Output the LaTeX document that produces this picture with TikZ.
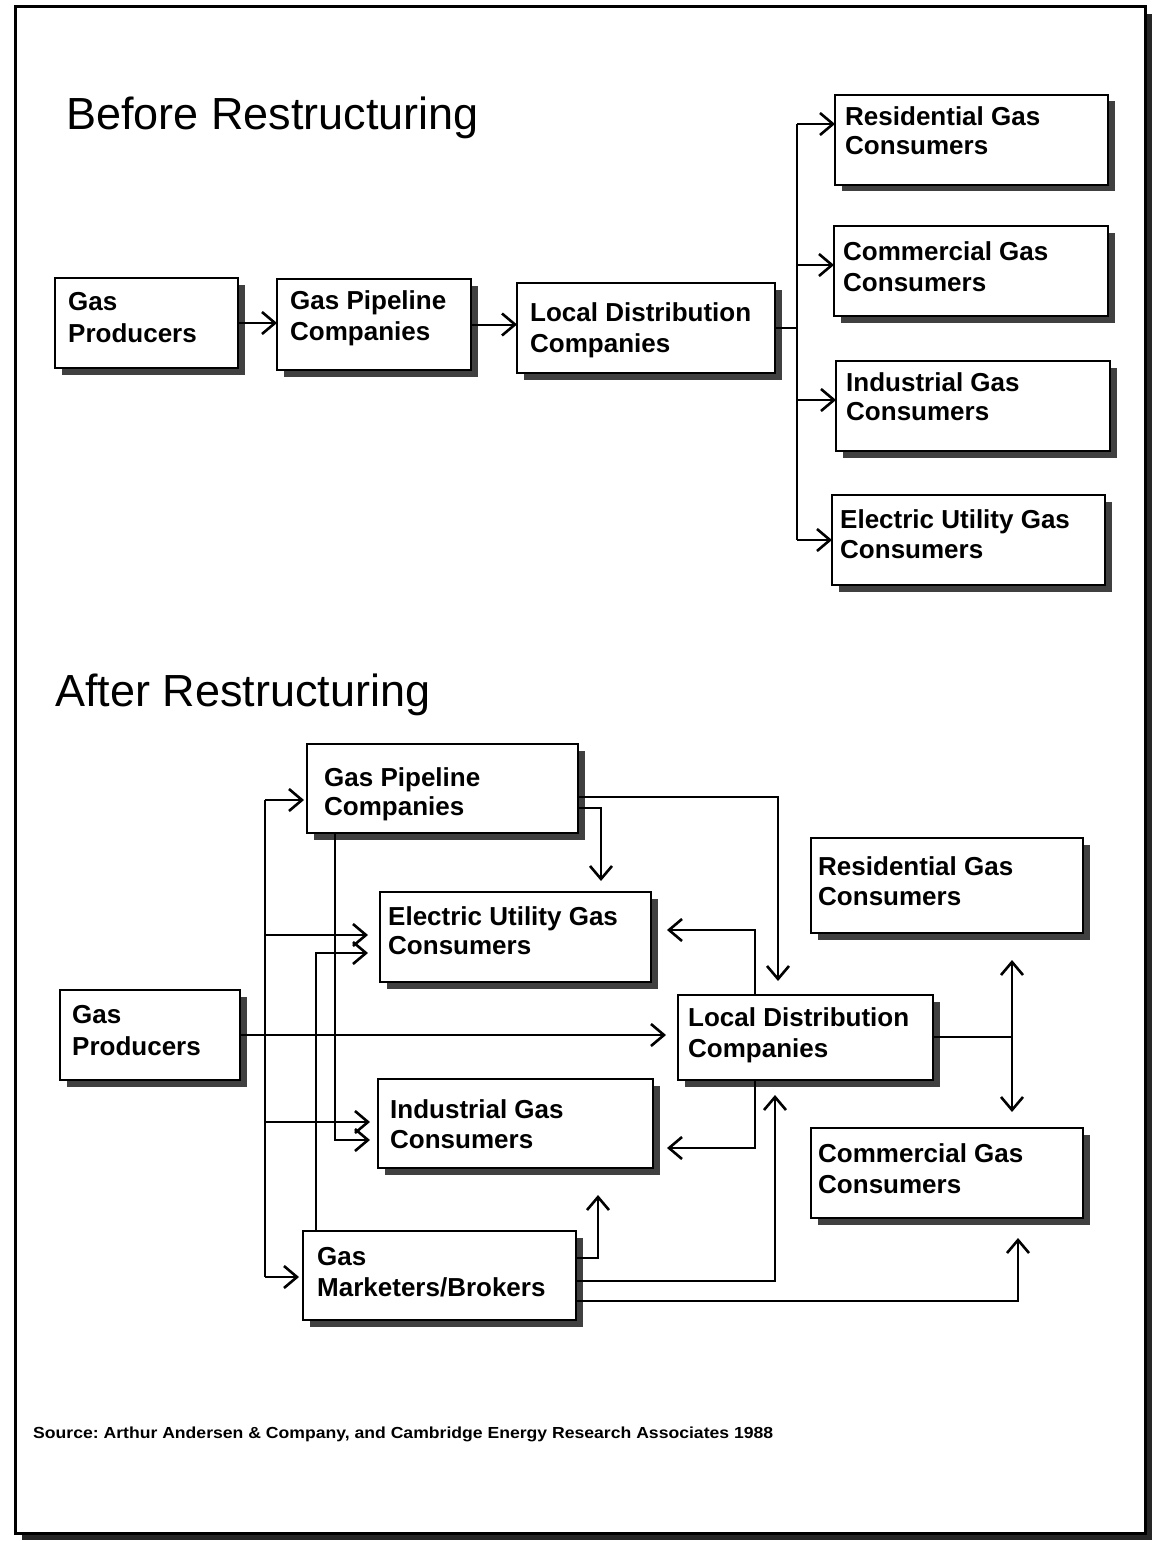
\documentclass[tikz,border=0pt]{standalone}
\usepackage{fontspec}
\setmainfont{Liberation Sans}
\usetikzlibrary{arrows.meta,shadows,calc}
\frenchspacing
\tikzset{
  gbox/.style={draw, line width=2pt, fill=white, inner sep=0pt, outer sep=0pt, anchor=north west,
    drop shadow={shadow xshift=6.5pt, shadow yshift=-6.5pt, fill=black!75, opacity=1}},
  glbl/.style={font=\bfseries\fontsize{26}{30}\selectfont, inner sep=0pt, anchor=base west},
  ttl/.style={font=\fontsize{45}{54}\selectfont, inner sep=0pt, anchor=base west},
  conn/.style={line width=2pt},
  arr/.style={conn, -{Straight Barb[length=13pt,width=22pt,line width=2.6pt]}},
}
\begin{document}
\begin{tikzpicture}[x=1pt,y=-1pt]
\useasboundingbox (0,0) rectangle (1157,1541);
\node[draw, line width=3pt, fill=white, inner sep=0pt, outer sep=0pt, anchor=north west,
  minimum width=1130pt, minimum height=1526pt,
  drop shadow={shadow xshift=7pt, shadow yshift=-7pt, fill=black!85, opacity=1}] (frame) at (15,7) {};

% ---------- Before ----------
\node[ttl] (tbefore) at (66,130) {Before Restructuring};

\node[gbox, minimum width=183pt, minimum height=90pt] (bgp) at (55,278) {};
\node[glbl] (bgp1) at (68,310) {Gas};
\node[glbl] (bgp2) at (68,342) {Producers};

\node[gbox, minimum width=194pt, minimum height=91pt] (bgpc) at (277,279) {};
\node[glbl] (bgpc1) at (290,309) {Gas Pipeline};
\node[glbl] (bgpc2) at (290,340) {Companies};

\node[gbox, minimum width=258pt, minimum height=90pt] (bldc) at (517,283) {};
\node[glbl] (bldc1) at (530,321) {Local Distribution};
\node[glbl] (bldc2) at (530,352) {Companies};

\node[gbox, minimum width=273pt, minimum height=90pt] (bres) at (835,95) {};
\node[glbl] (bres1) at (845,126) {Residential Gas};
\node[glbl] (bres2) at (845,155) {Consumers};

\node[gbox, minimum width=274pt, minimum height=90pt] (bcom) at (834,226) {};
\node[glbl] (bcom1) at (843,260) {Commercial Gas};
\node[glbl] (bcom2) at (843,291) {Consumers};

\node[gbox, minimum width=274pt, minimum height=90pt] (bind) at (836,361) {};
\node[glbl] (bind1) at (846,391) {Industrial Gas};
\node[glbl] (bind2) at (846,420) {Consumers};

\node[gbox, minimum width=273pt, minimum height=90pt] (beu) at (832,495) {};
\node[glbl] (beu1) at (840,528) {Electric Utility Gas};
\node[glbl] (beu2) at (840,558) {Consumers};

\draw[arr] (bgp.east) -- (bgp.east -| bgpc.west);
\draw[arr] (bgpc.east) -- (bgpc.east -| bldc.west);
\coordinate (bt1) at (797,124);
\coordinate (bt2) at (797,265);
\coordinate (bt3) at (797,400);
\coordinate (bt4) at (797,540);
\draw[conn] (bldc.east) -- (bldc.east -| bt1);
\draw[conn] (bt1) -- (bt4);
\draw[arr] (bt1) -- (bt1 -| bres.west);
\draw[arr] (bt2) -- (bt2 -| bcom.west);
\draw[arr] (bt3) -- (bt3 -| bind.west);
\draw[arr] (bt4) -- (bt4 -| beu.west);

% ---------- After ----------
\node[ttl] (tafter) at (55,706) {After Restructuring};

\node[gbox, minimum width=271pt, minimum height=89pt] (agpc) at (307,744) {};
\node[glbl] (agpc1) at (324,786) {Gas Pipeline};
\node[glbl] (agpc2) at (324,815) {Companies};

\node[gbox, minimum width=271pt, minimum height=90pt] (aeu) at (380,892) {};
\node[glbl] (aeu1) at (388,925) {Electric Utility Gas};
\node[glbl] (aeu2) at (388,954) {Consumers};

\node[gbox, minimum width=180pt, minimum height=90pt] (agp) at (60,990) {};
\node[glbl] (agp1) at (72,1023) {Gas};
\node[glbl] (agp2) at (72,1055) {Producers};

\node[gbox, minimum width=255pt, minimum height=85pt] (aldc) at (678,995) {};
\node[glbl] (aldc1) at (688,1026) {Local Distribution};
\node[glbl] (aldc2) at (688,1057) {Companies};

\node[gbox, minimum width=275pt, minimum height=89pt] (aig) at (378,1079) {};
\node[glbl] (aig1) at (390,1118) {Industrial Gas};
\node[glbl] (aig2) at (390,1148) {Consumers};

\node[gbox, minimum width=273pt, minimum height=89pt] (agmb) at (303,1231) {};
\node[glbl] (agmb1) at (317,1265) {Gas};
\node[glbl] (agmb2) at (317,1296) {Marketers/Brokers};

\node[gbox, minimum width=272pt, minimum height=95pt] (ares) at (811,838) {};
\node[glbl] (ares1) at (818,875) {Residential Gas};
\node[glbl] (ares2) at (818,905) {Consumers};

\node[gbox, minimum width=272pt, minimum height=90pt] (acom) at (811,1128) {};
\node[glbl] (acom1) at (818,1162) {Commercial Gas};
\node[glbl] (acom2) at (818,1193) {Consumers};

% producers -> LDC
\draw[arr, shorten >=12pt] (agp.east) -- (agp.east -| aldc.west);
% left trunk
\coordinate (lt1) at (265,800);
\coordinate (lt2) at (265,935);
\coordinate (lt3) at (265,1122);
\coordinate (lt4) at (265,1277);
\draw[conn] (lt1) -- (lt4);
\draw[arr, shorten >=3pt] (lt1) -- (lt1 -| agpc.west);
\draw[arr, shorten >=12pt] (lt2) -- (lt2 -| aeu.west);
\draw[arr, shorten >=8pt] (lt3) -- (lt3 -| aig.west);
\draw[arr, shorten >=4pt] (lt4) -- (lt4 -| agmb.west);
% marketers -> electric utility
\coordinate (m1) at (316,953);
\draw[arr, shorten >=12pt] (agmb.north -| m1) -- (m1) -- (m1 -| aeu.west);
% pipeline -> industrial
\coordinate (p1) at (335,1140);
\draw[arr, shorten >=8pt] (agpc.south -| p1) -- (p1) -- (p1 -| aig.west);
% pipeline -> LDC
\coordinate (g1) at (778,797);
\draw[arr, shorten >=14pt] (agpc.east |- g1) -- (g1) -- (g1 |- aldc.north);
% pipeline -> electric utility
\coordinate (g2) at (601,808);
\draw[arr, shorten >=11pt] (agpc.east |- g2) -- (g2) -- (g2 |- aeu.north);
% LDC -> electric utility
\coordinate (l1) at (755,930);
\draw[arr, shorten >=16pt] (aldc.north -| l1) -- (l1) -- (l1 -| aeu.east);
% LDC -> industrial
\coordinate (l2) at (755,1148);
\draw[arr, shorten >=14pt] (aldc.south -| l2) -- (l2) -- (l2 -| aig.east);
% LDC -> residential / commercial
\coordinate (r0) at (1012,1037);
\draw[conn] (aldc.east |- r0) -- (r0);
\draw[arr, shorten >=27pt] (r0) -- (r0 |- ares.south);
\draw[arr, shorten >=16pt] (r0) -- (r0 |- acom.north);
% marketers -> industrial, LDC, commercial
\coordinate (b1) at (598,1258);
\draw[arr, shorten >=27pt] (agmb.east |- b1) -- (b1) -- (b1 |- aig.south);
\coordinate (b2) at (775,1281);
\draw[arr, shorten >=15pt] (agmb.east |- b2) -- (b2) -- (b2 |- aldc.south);
\coordinate (b3) at (1018,1301);
\draw[arr, shorten >=20pt] (agmb.east |- b3) -- (b3) -- (b3 |- acom.south);

\node[font=\bfseries\fontsize{16}{18}\selectfont\addfontfeature{FakeStretch=1.1}, inner sep=0pt, anchor=base west] (src) at (33,1438)
  {Source: Arthur Andersen \& Company, and Cambridge Energy Research Associates 1988};
\end{tikzpicture}
\end{document}
